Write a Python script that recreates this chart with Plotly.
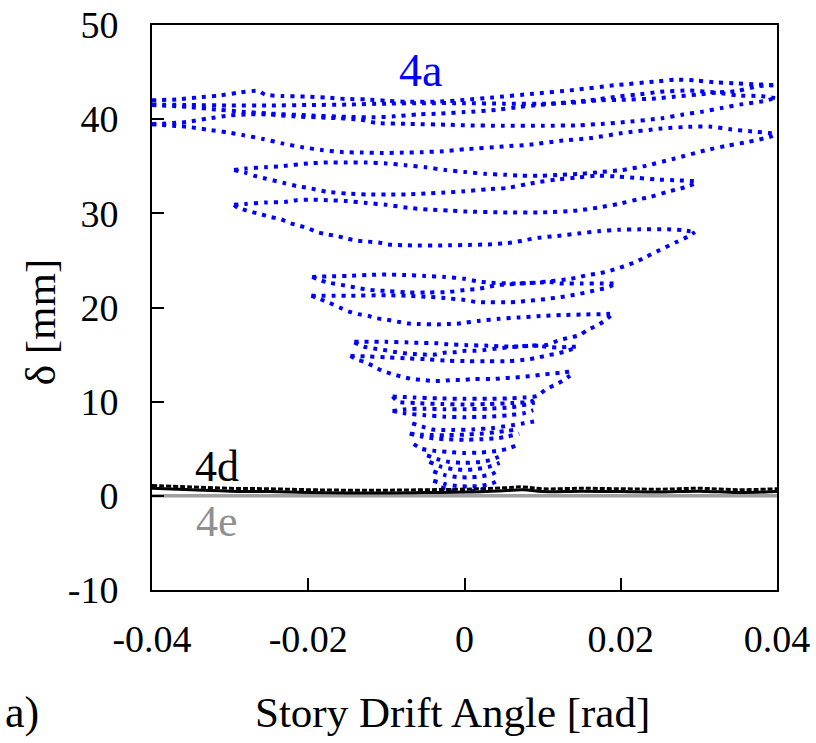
import plotly.graph_objects as go

# ---------------- data ----------------
# 4a : drift angle [rad] vs delta [mm]  (hysteresis branches)
a_top = [(-0.04,42.0),(-0.0368,42.1),(-0.0342,42.3),(-0.0315,42.5),(-0.029,42.8),(-0.0264,43.0),
         (-0.0255,42.6),(-0.0232,42.45),(-0.0204,42.4),(-0.0178,42.3),(-0.0153,42.15),(-0.0126,42.1),
         (-0.0099,41.95),(-0.0073,41.85),(-0.0035,41.85),(0.0,42.05),(0.0036,42.3),(0.0088,42.7),
         (0.014,43.1),(0.0192,43.6),(0.0245,44.0),(0.027,44.2),(0.0297,44.1),(0.0323,43.9),
         (0.0349,43.8),(0.0374,43.7),(0.04,43.6)]
a_b = [(-0.04,41.55),(-0.035,41.5),(-0.03,41.45),(-0.025,41.45),(-0.02,41.5),(-0.015,41.55),
       (-0.01,41.65),(-0.005,41.7),(0.0,41.7),(0.005,41.65),(0.011,41.65),(0.0147,41.8),(0.0172,42.0),
       (0.0198,42.05),(0.0245,42.2),(0.027,42.4),(0.0297,42.6),(0.0323,42.8),(0.035,42.5),
       (0.038,42.45),(0.04,42.2)]
a_c = [(-0.04,41.5),(-0.0355,41.3),(-0.0315,41.0),(-0.0285,40.8),(-0.025,40.6),(-0.02,40.4),
       (-0.015,40.25),(-0.0115,40.2),(-0.009,40.3),(-0.006,40.5),(-0.003,40.6),(0.0,40.75),
       (0.0042,41.0),(0.007,41.3),(0.0095,41.5),(0.012,41.7),(0.016,42.0),(0.0196,42.4),(0.022,42.6),
       (0.025,42.9),(0.0288,43.05),(0.0323,42.85),(0.035,43.0),(0.0375,43.5),(0.04,43.6)]
a_d = [(-0.04,39.45),(-0.0356,39.7),(-0.033,40.05),(-0.03,40.4),(-0.028,40.5),(-0.025,40.5),
       (-0.022,40.3),(-0.0175,40.15),(-0.0133,39.95),(-0.0113,39.6),(-0.007,39.5),(-0.0018,39.4),
       (0.0,39.35),(0.005,39.3),(0.01,39.3),(0.0147,39.35),(0.0175,39.5),(0.02,39.65),(0.0253,40.1),
       (0.028,40.5),(0.0305,40.8),(0.033,41.2),(0.0356,41.6),(0.0382,41.9),(0.04,42.3)]
a_e = [(-0.04,39.45),(-0.0356,39.2),(-0.033,38.9),(-0.0304,38.6),(-0.0283,38.3),(-0.0258,37.9),
       (-0.0232,37.4),(-0.0206,37.0),(-0.0181,36.7),(-0.0155,36.5),(-0.013,36.45),(-0.0104,36.4),
       (-0.0078,36.45),(-0.0053,36.5),(-0.0027,36.6),(0.0,36.8),(0.005,37.1),(0.0085,37.3),
       (0.0123,37.7),(0.0162,38.0),(0.02,38.5),(0.0252,39.0),(0.029,39.2),(0.0316,39.2),
       (0.0342,38.9),(0.0368,38.7),(0.04,38.45)]
b_u1 = [(-0.0295,34.6),(-0.028,34.75),(-0.0255,34.9),(-0.0235,35.0),(-0.02,35.3),(-0.0175,35.4),
        (-0.015,35.4),(-0.0125,35.4),(-0.01,35.3),(-0.0075,35.1),(-0.005,34.9),(-0.0025,34.6),
        (0.0,34.4),(0.0026,34.2),(0.0051,34.1),(0.0073,34.0),(0.0099,34.0),(0.0125,34.1),
        (0.015,34.2),(0.0176,34.4),(0.0202,34.6),(0.0229,35.0),(0.0268,35.8),(0.0309,36.7),
        (0.0337,37.2),(0.0364,37.6),(0.039,38.1),(0.04,38.4)]
b_u2 = [(-0.0295,34.6),(-0.028,34.3),(-0.027,34.0),(-0.0255,33.7),(-0.024,33.4),(-0.023,33.2),
        (-0.0215,32.9),(-0.02,32.7),(-0.0177,32.3),(-0.015,32.1),(-0.0125,32.0),(-0.01,32.0),
        (-0.0075,32.0),(-0.005,32.1),(-0.0025,32.2),(0.0,32.35),(0.0029,32.55),(0.0055,32.7),
        (0.008,33.1),(0.0093,33.3),(0.0119,33.6),(0.0145,33.8),(0.017,34.0),(0.0197,33.9),
        (0.0223,33.75),(0.0245,33.6),(0.0275,33.5),(0.0299,33.4)]
b_u3 = [(-0.0295,30.9),(-0.028,31.0),(-0.0255,31.15),(-0.023,31.2),(-0.0215,31.4),(-0.02,31.45),
        (-0.0175,31.4),(-0.015,31.3),(-0.0125,31.1),(-0.01,30.9),(-0.0073,30.6),(-0.0047,30.4),
        (-0.002,30.3),(0.0,30.2),(0.005,30.1),(0.01,30.1),(0.0145,30.3),(0.017,30.6),(0.0197,31.0),
        (0.0223,31.5),(0.0236,31.7),(0.026,32.3),(0.0275,32.6),(0.0287,32.9),(0.03,33.3)]
b_u4 = [(-0.0295,30.9),(-0.029,30.6),(-0.0275,30.2),(-0.026,29.9),(-0.0248,29.6),(-0.0236,29.4),
        (-0.0225,29.0),(-0.0212,28.7),(-0.02,28.4),(-0.0188,28.0),(-0.0175,27.75),(-0.0163,27.6),
        (-0.015,27.3),(-0.0137,27.1),(-0.0124,27.0),(-0.011,26.9),(-0.0098,26.7),(-0.0073,26.6),
        (-0.002,26.6),(0.0005,26.65),(0.003,26.7),(0.0055,26.85),(0.0068,27.0),(0.008,27.2),
        (0.0094,27.4),(0.0119,27.6),(0.0145,27.85),(0.0171,28.1),(0.0197,28.25),(0.0225,28.3),
        (0.026,28.3),(0.028,28.2),(0.0295,28.0)]
c_v1 = [(-0.0195,23.25),(-0.0175,23.3),(-0.015,23.35),(-0.0125,23.45),(-0.01,23.5),(-0.0075,23.45),
        (-0.005,23.35),(-0.0025,23.25),(0.0,23.05),(0.0015,22.8),(0.003,22.65),(0.006,22.55),
        (0.0085,22.6),(0.011,22.8),(0.0133,23.0),(0.0145,23.2),(0.0158,23.45),(0.0171,23.6),
        (0.0184,23.85),(0.0196,24.15),(0.0208,24.5),(0.0221,24.9),(0.0233,25.4),(0.025,26.1),
        (0.027,26.9),(0.0285,27.5),(0.0295,28.0)]
c_v2 = [(-0.0195,23.25),(-0.0177,22.7),(-0.0151,22.3),(-0.0138,22.1),(-0.0124,21.9),(-0.0111,21.8),
        (-0.0098,21.75),(-0.0073,21.6),(-0.0047,21.6),(-0.002,21.65),(0.0,21.85),(0.0019,22.0),
        (0.0031,22.2),(0.0044,22.4),(0.0057,22.45),(0.007,22.55),(0.0083,22.6),(0.0097,22.65),
        (0.0109,22.7),(0.0122,22.55),(0.0149,22.55),(0.0174,22.55),(0.0195,22.55)]
c_v3 = [(-0.0196,21.25),(-0.015,21.25),(-0.01,21.3),(-0.0075,21.25),(-0.005,21.15),(-0.0025,21.0),
        (0.0,20.8),(0.0014,20.6),(0.003,20.55),(0.0055,20.55),(0.0067,20.6),(0.008,20.7),
        (0.0093,20.8),(0.0105,20.9),(0.0118,21.05),(0.0131,21.2),(0.0144,21.4),(0.0156,21.6),
        (0.0169,21.85),(0.0182,22.1),(0.0194,22.5)]
c_v4 = [(-0.0196,21.25),(-0.0185,20.9),(-0.0173,20.5),(-0.016,20.0),(-0.0149,19.6),(-0.0136,19.3),
        (-0.0123,19.1),(-0.0112,18.85),(-0.0099,18.7),(-0.0086,18.5),(-0.0071,18.3),(-0.0058,18.25),
        (-0.0035,18.2),(-0.002,18.25),(-0.0007,18.3),(0.002,18.6),(0.0045,18.8),(0.0071,18.95),
        (0.0097,19.1),(0.0124,19.2),(0.0149,19.25),(0.0176,19.3),(0.019,19.35)]
d_w1 = [(-0.0141,16.35),(-0.01,16.35),(-0.0075,16.3),(-0.0061,16.25),(-0.0035,16.2),(-0.0022,16.1),
        (0.0004,16.0),(0.003,15.95),(0.0056,15.85),(0.0081,15.9),(0.0107,16.05),(0.012,16.5),
        (0.0134,16.8),(0.0147,17.05),(0.0157,17.6),(0.017,18.1),(0.0181,18.7),(0.019,19.35)]
d_w2 = [(-0.0141,16.3),(-0.0129,15.85),(-0.0116,15.65),(-0.0104,15.5),(-0.0091,15.3),(-0.0077,15.15),
        (-0.0064,15.05),(-0.0051,15.0),(-0.0038,15.0),(-0.0026,15.2),(-0.0013,15.25),(0.0001,15.4),
        (0.0014,15.4),(0.0027,15.5),(0.0041,15.65),(0.0054,15.75),(0.0068,15.85),(0.0081,15.95),
        (0.0094,15.95),(0.0106,15.8),(0.0119,15.75),(0.0132,15.8),(0.0145,15.85)]
d_w3 = [(-0.0146,14.85),(-0.0124,14.8),(-0.0098,14.7),(-0.0072,14.6),(-0.0047,14.5),(-0.0021,14.35),
        (0.0005,14.3),(0.003,14.3),(0.0057,14.3),(0.0082,14.5),(0.0095,14.7),(0.0108,14.95),
        (0.0121,15.15),(0.0132,15.4),(0.0144,15.85)]
d_w4 = [(-0.0146,14.85),(-0.0138,14.5),(-0.0129,14.25),(-0.0117,13.8),(-0.0106,13.3),(-0.0093,12.95),
        (-0.008,12.65),(-0.0067,12.4),(-0.0054,12.3),(-0.0041,12.2),(-0.0029,12.2),(-0.0016,12.3),
        (-0.0003,12.3),(0.0011,12.4),(0.0036,12.4),(0.005,12.5),(0.0062,12.55),(0.0075,12.65),
        (0.0089,12.75),(0.0102,12.9),(0.0114,13.0),(0.0127,13.1),(0.0139,13.3)]
e_z1 = [(-0.0092,10.55),(-0.0065,10.45),(-0.0035,10.35),(0.0,10.3),(0.003,10.3),(0.0055,10.35),
        (0.0078,10.45),(0.0093,10.6),(0.0104,11.3),(0.0115,11.75),(0.0127,12.3),(0.0139,13.0)]
e_z2 = [(-0.0092,10.55),(-0.0085,10.0),(-0.006,9.85),(-0.003,9.75),(0.0,9.7),(0.003,9.75),
        (0.006,9.85),(0.0085,10.0),(0.0092,10.3)]
e_z3 = [(-0.0092,9.0),(-0.0075,9.2),(-0.005,9.25),(-0.0025,9.2),(0.0,9.2),(0.003,9.25),
        (0.006,9.4),(0.009,9.9)]
e_z4 = [(-0.0092,9.0),(-0.0075,8.75),(-0.005,8.55),(-0.0025,8.4),(0.0,8.35),(0.003,8.4),
        (0.0055,8.55),(0.0075,8.75),(0.0088,9.1)]
f_y1 = [(-0.0067,7.7),(-0.0054,7.35),(-0.0041,7.05),(-0.0029,7.0),(-0.0016,7.0),(0.001,7.05),
        (0.0036,7.2),(0.0048,7.35),(0.0061,7.5),(0.0076,7.7),(0.0089,7.9)]
f_y2 = [(-0.007,6.6),(-0.0055,6.3),(-0.004,6.1),(-0.002,6.0),(0.0,5.95),(0.002,6.0),(0.004,6.1),
        (0.0055,6.3),(0.007,6.6)]
f_y3 = [(-0.007,6.6),(-0.0055,6.5),(-0.004,6.45),(-0.002,6.45),(0.0,6.5),(0.002,6.6),(0.004,6.75),
        (0.0055,6.9),(0.007,7.1)]
f_y4 = [(-0.0065,5.5),(-0.0055,5.0),(-0.004,4.8),(-0.002,4.65),(0.0,4.55),(0.002,4.6),(0.004,4.75),
        (0.0055,5.0),(0.0065,5.3)]
g_q1 = [(-0.0048,4.3),(-0.0035,3.9),(-0.002,3.6),(0.0,3.5),(0.002,3.6),(0.0035,3.85),(0.0048,4.3)]
g_q2 = [(-0.0045,3.6),(-0.003,3.1),(-0.0015,2.85),(0.0,2.75),(0.0015,2.85),(0.003,3.05),(0.0045,3.5)]
g_q3 = [(-0.004,2.6),(-0.0025,2.2),(-0.001,2.0),(0.0005,1.95),(0.002,2.05),(0.0035,2.3),(0.0045,2.8)]
g_q4 = [(-0.004,1.6),(-0.0025,1.25),(-0.001,1.05),(0.0005,1.0),(0.002,1.05),(0.0035,1.3),(0.0045,1.7)]
g_q5 = [(-0.003,0.9),(-0.0015,0.6),(0.0,0.5),(0.0015,0.55),(0.003,0.75)]

branches_4a = [a_top, a_b, a_c, a_d, a_e, b_u1, b_u2, b_u3, b_u4, c_v1, c_v2, c_v3, c_v4,
               d_w1, d_w2, d_w3, d_w4, e_z1, e_z2, e_z3, e_z4, f_y1, f_y2, f_y3, f_y4,
               g_q1, g_q2, g_q3, g_q4, g_q5]

# 4d : small residual displacement
d4_x = [-0.04,-0.035,-0.03,-0.025,-0.02,-0.015,-0.01,-0.005,0.0,0.005,0.0075,0.01,0.015,0.02,0.025,0.03,0.035,0.04]
d4_y = [0.95,0.8,0.65,0.6,0.5,0.45,0.45,0.5,0.55,0.7,0.8,0.6,0.65,0.6,0.55,0.65,0.5,0.6]
# 4e : zero
e4_x = [-0.04, 0.04]
e4_y = [0.0, 0.0]

x_ticks = [-0.04, -0.02, 0, 0.02, 0.04]
x_ticktext = ["-0.04", "-0.02", "0", "0.02", "0.04"]
y_ticks = [-10, 0, 10, 20, 30, 40, 50]
y_ticktext = ["-10", "0", "10", "20", "30", "40", "50"]

# ---------------- figure ----------------
FONT = "Liberation Serif"
BLUE = "#0000ff"
fig = go.Figure()

for br in branches_4a:
    fig.add_trace(go.Scatter(
        x=[p[0] for p in br], y=[p[1] for p in br], mode="lines",
        line=dict(color=BLUE, width=4, dash="4px,6px", shape="spline", smoothing=0.6),
        hoverinfo="skip", showlegend=False))

fig.add_trace(go.Scatter(x=e4_x, y=e4_y, mode="lines",
                         line=dict(color="#a0a0a0", width=3.5), showlegend=False))
fig.add_trace(go.Scatter(x=d4_x, y=[v - 0.15 for v in d4_y], mode="lines",
                         line=dict(color="black", width=3, shape="spline"), showlegend=False))
fig.add_trace(go.Scatter(x=d4_x, y=[v + 0.15 for v in d4_y], mode="lines",
                         line=dict(color="black", width=3, dash="5px,2px", shape="spline"),
                         showlegend=False))

axis_common = dict(showline=True, linecolor="black", linewidth=2, mirror=True,
                   showgrid=False, zeroline=False, ticks="inside", ticklen=12,
                   tickwidth=2, tickcolor="black", automargin=False,
                   tickfont=dict(family=FONT, size=38, color="black"))
fig.update_xaxes(range=[-0.04, 0.04], tickvals=x_ticks, ticktext=x_ticktext,
                 ticklabelstandoff=14, **axis_common)
fig.update_yaxes(range=[-10, 50], tickvals=y_ticks, ticktext=y_ticktext,
                 ticklabelstandoff=24, **axis_common)

fig.add_annotation(x=-0.0056, y=45.2, text="4a", showarrow=False,
                   font=dict(family=FONT, size=46, color=BLUE))
fig.add_annotation(x=-0.0317, y=3.1, text="4d", showarrow=False,
                   font=dict(family=FONT, size=44, color="black"))
fig.add_annotation(x=-0.0317, y=-2.75, text="4e", showarrow=False,
                   font=dict(family=FONT, size=44, color="#909090"))
fig.add_annotation(xref="paper", yref="paper", x=0.48, y=-0.216, text="Story Drift Angle [rad]",
                   showarrow=False, xanchor="center", yanchor="middle",
                   font=dict(family=FONT, size=43, color="black"))
fig.add_annotation(xref="paper", yref="paper", x=-0.179, y=0.474, text="δ [mm]", textangle=-90,
                   showarrow=False, xanchor="center", yanchor="middle",
                   font=dict(family=FONT, size=43, color="black"))
fig.add_annotation(xref="paper", yref="paper", x=-0.238, y=-0.217, text="a)",
                   showarrow=False, xanchor="left", yanchor="middle",
                   font=dict(family=FONT, size=44, color="black"))

fig.update_layout(width=816, height=743, margin=dict(l=152, r=39, t=25, b=153),
                  paper_bgcolor="white", plot_bgcolor="white", showlegend=False)

fig.write_html("out.html")
